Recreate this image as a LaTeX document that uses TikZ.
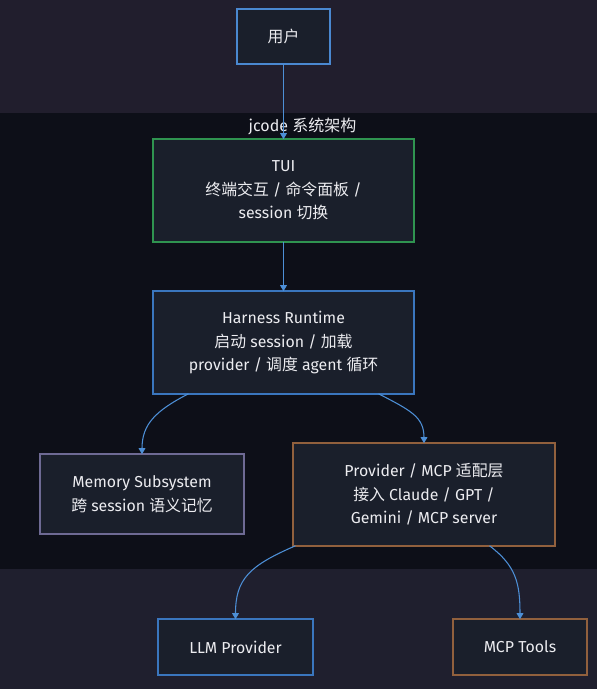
\documentclass[tikz,border=0pt]{standalone}
\usepackage{fontspec}
\setmainfont{Fira Sans}
\newfontfamily\zhfont{Noto Sans CJK SC}
\newcommand{\zh}[1]{{\zhfont #1}}
\usepackage{tikz}
\usetikzlibrary{calc,arrows.meta}

\definecolor{topband}{HTML}{211E2D}
\definecolor{midband}{HTML}{0D0F18}
\definecolor{botband}{HTML}{1F1F2E}
\definecolor{nodefill}{HTML}{1A1F2B}
\definecolor{txt}{HTML}{ECECF0}
\definecolor{userblue}{HTML}{4A88D0}
\definecolor{tuigreen}{HTML}{2F9450}
\definecolor{coreblue}{HTML}{3A76BE}
\definecolor{memgray}{HTML}{6E6A94}
\definecolor{provbrown}{HTML}{91603D}
\definecolor{linkblue}{HTML}{4D8FD6}

\begin{document}
\begin{tikzpicture}[x=0.75pt,y=-0.75pt,
  box/.style={fill=nodefill, inner sep=0pt,
    align=center, text=txt, font=\fontsize{11.9}{17.6}\selectfont},
  link/.style={draw=linkblue, line width=0.8pt,
    -{Triangle[width=5pt,length=4.5pt]}}]
  \useasboundingbox (0,0) rectangle (597,689);

  % background bands
  \fill[topband] (0,0) rectangle (597,113);
  \fill[midband] (0,113) rectangle (597,569);
  \fill[botband] (0,569) rectangle (597,689);

  \node[text=txt, font=\fontsize{12}{12}\selectfont] (title) at (302.5,126) {jcode \zh{系统架构}};

  % boxes
  \node[box, minimum width=69.75pt, minimum height=41.25pt]
    (user) at (283.5,36.5) {\zh{用户}};
  \node[box, minimum width=195pt, minimum height=76.5pt]
    (tui) at (283.5,190.5) {TUI\\ \zh{终端交互} / \zh{命令面板} /\\ session \zh{切换}};
  \node[box, minimum width=195pt, minimum height=76.5pt]
    (hr) at (283.5,342.5) {Harness Runtime\\ \zh{启动} session / \zh{加载}\\ provider / \zh{调度} agent \zh{循环}};
  \node[box, minimum width=152.25pt, minimum height=59.25pt]
    (mem) at (142,494) {Memory Subsystem\\ \zh{跨} session \zh{语义记忆}};
  \node[box, minimum width=195.75pt, minimum height=76.5pt]
    (prov) at (424,494.5) {Provider / MCP \zh{适配层}\\ \zh{接入} Claude / GPT /\\ Gemini / MCP server};
  \node[box, minimum width=115.5pt, minimum height=41.25pt]
    (llm) at (235.5,647) {LLM Provider};
  \node[box, minimum width=99.75pt, minimum height=41.25pt]
    (mcp) at (520,647) {MCP Tools};

  % borders
  \draw[userblue, line width=1.5pt] (user.south west) rectangle (user.north east);
  \foreach \n/\c in {tui/tuigreen, hr/coreblue, mem/memgray, prov/provbrown, llm/coreblue, mcp/provbrown}
    \draw[\c, line width=1.2pt] (\n.south west) rectangle (\n.north east);

  % connectors
  \draw[link] (user) -- (tui);
  \draw[link] (tui) -- (hr);
  \draw[link] ($(hr.south)+(-95,0)$) .. controls ($(hr.south)+(-128,17)$) and ($(mem.north)+(0,-30)$) .. (mem.north);
  \draw[link] ($(hr.south)+(95,0)$) .. controls ($(hr.south)+(128,17)$) and ($(prov.north)+(0,-26)$) .. (prov.north);
  \draw[link] ($(prov.south)+(-128.5,0)$) .. controls ($(prov.south)+(-175,20)$) and ($(llm.north)+(0,-40)$) .. (llm.north);
  \draw[link] ($(prov.south)+(65.5,0)$) .. controls ($(prov.south)+(92,20)$) and ($(mcp.north)+(0,-36)$) .. (mcp.north);
\end{tikzpicture}
\end{document}
